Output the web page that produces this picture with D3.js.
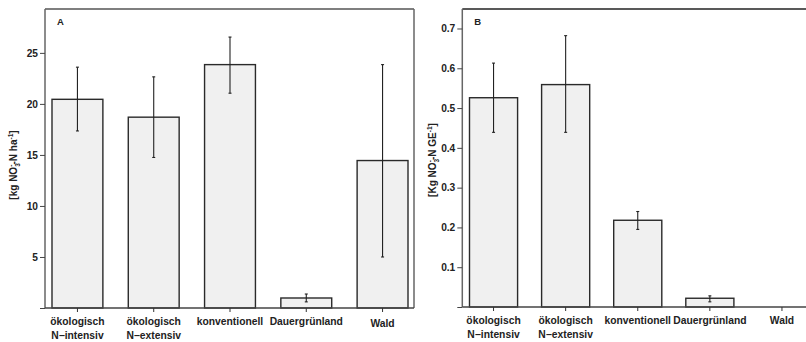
<!DOCTYPE html>
<html><head><meta charset="utf-8">
<script src="https://cdn.jsdelivr.net/npm/d3@7"></script>
<style>
html,body{margin:0;padding:0;background:#fff;}
svg{display:block;font-family:"Liberation Sans",Arial,sans-serif;font-weight:bold;}
</style></head><body>
<svg id="c" width="806" height="342"></svg>
<script>
const categories = [["ökologisch","N−intensiv"],["ökologisch","N−extensiv"],["konventionell"],["Dauergrünland"],["Wald"]];
const valuesA = [20.45, 18.7, 23.85, 0.98, 14.45];
const lowA    = [17.35, 14.75, 21.05, 0.6, 5.0];
const highA   = [23.6, 22.65, 26.55, 1.37, 23.85];
const valuesB = [0.526, 0.559, 0.218, 0.022, 0];
const lowB    = [0.439, 0.439, 0.195, 0.013, null];
const highB   = [0.613, 0.682, 0.240, 0.028, null];
const ticksA = [5, 10, 15, 20, 25];
const ticksB = [0.1, 0.2, 0.3, 0.4, 0.5, 0.6, 0.7];
const titleA = [["[kg NO",""],["3","sub"],["-","sup"],["-N ha",""],["-1","sup"],["]",""]];
const titleB = [["[Kg NO",""],["3","sub"],["-","sup"],["-N GE",""],["-1","sup"],["]",""]];

const svg = d3.select("#c");

function panel(o){
  const g = svg.append("g");
  const x = d3.scaleBand().domain(d3.range(categories.length)).range(o.xr).paddingInner(0.333).paddingOuter(0);
  const y = d3.scaleLinear().domain(o.yd).range([o.bottom, o.top]);
  // frame
  g.append("line").attr("x1",o.left).attr("x2",o.right).attr("y1",o.top).attr("y2",o.top)
    .attr("stroke",o.topColor).attr("stroke-width",1.5);
  if (o.right < 806) g.append("line").attr("x1",o.right).attr("x2",o.right).attr("y1",o.top).attr("y2",o.bottom)
    .attr("stroke","#666").attr("stroke-width",1.5);
  // bars
  g.selectAll("rect.bar").data(o.values).join("rect")
    .attr("x",(d,i)=>x(i)).attr("width",x.bandwidth())
    .attr("y",d=>y(d)).attr("height",d=>o.bottom-y(d))
    .attr("fill","#f0f0f0").attr("stroke",d=>d>0?"#2a2a2a":"none").attr("stroke-width",1.4);
  // error bars
  o.values.forEach((v,i)=>{
    if (o.low[i]==null) return;
    const cx = x(i)+x.bandwidth()/2;
    g.append("line").attr("x1",cx).attr("x2",cx).attr("y1",y(o.low[i])).attr("y2",y(o.high[i]))
      .attr("stroke","#222").attr("stroke-width",1.1);
    [o.low[i],o.high[i]].forEach(e=>{
      g.append("line").attr("x1",cx-1.5).attr("x2",cx+1.5).attr("y1",y(e)).attr("y2",y(e))
        .attr("stroke","#222").attr("stroke-width",1.1);
    });
  });
  // y axis
  const ya = g.append("g").attr("transform",`translate(${o.left},0)`)
    .call(d3.axisLeft(y).tickValues([0].concat(o.ticks)).tickSize(5).tickPadding(2)
      .tickFormat(d=>d===0?"":(o.fmt?o.fmt(d):d)));
  ya.select(".domain").attr("d",`M0,${o.top}V${o.bottom}`).attr("stroke","#666").attr("stroke-width",1.5);
  ya.selectAll(".tick line").attr("stroke","#444");
  ya.selectAll("text").attr("font-size","10.2px").attr("font-weight","bold").attr("fill","#222")
    .attr("font-family","'Liberation Sans',Arial,sans-serif");
  // x axis
  const xa = g.append("g").attr("transform",`translate(0,${o.bottom})`)
    .call(d3.axisBottom(x).tickSize(4).tickFormat(""));
  xa.select(".domain").attr("d",`M${o.left},0H${o.right}`).attr("stroke","#444").attr("stroke-width",1.5);
  xa.selectAll(".tick line").attr("stroke","#333");
  categories.forEach((c,i)=>{
    const cx = x(i)+x.bandwidth()/2;
    const t = g.append("text").attr("x",cx).attr("text-anchor","middle")
      .attr("font-size","10.3px").attr("fill","#222");
    c.forEach((line,j)=>{
      t.append("tspan").attr("x",cx).attr("y",o.bottom+17+j*13.5+(c.length===1&&i===4&&o.waldShift?2:0)).text(line);
    });
  });
  // panel letter
  g.append("text").attr("x",o.left+12).attr("y",o.top+16).attr("font-size","9.5px").attr("fill","#222").text(o.letter);
  // y title
  const yt = g.append("text").attr("transform",`translate(${o.titleX},${o.titleY}) rotate(-90)`)
    .attr("text-anchor","middle").attr("font-size","10px").attr("fill","#222");
  let cur = 0, prev = "";
  o.title.forEach(p=>{
    const target = p[1]==="sup" ? -4 : p[1]==="sub" ? 3 : 0;
    const ts = yt.append("tspan").text(p[0]).attr("dy", target-cur);
    if (p[1]) ts.attr("font-size","6.5px");
    if (p[1]==="sup" && prev==="sub") ts.attr("dx",-3.4);
    cur = target; prev = p[1];
  });
}

panel({xr:[52,408], left:45, right:414, top:9, bottom:308, yd:[0,29.3], values:valuesA, low:lowA, high:highA,
  ticks:ticksA, letter:"A", topColor:"#555", titleX:17, titleY:165, waldShift:true, title:titleA});
panel({xr:[469.5,806], left:462.3, right:812, top:9, bottom:307, yd:[0,0.749], values:valuesB, low:lowB, high:highB,
  ticks:ticksB, letter:"B", topColor:"#222", titleX:436, titleY:160, fmt:d3.format(".1f"), title:titleB});
</script>
</body></html>
